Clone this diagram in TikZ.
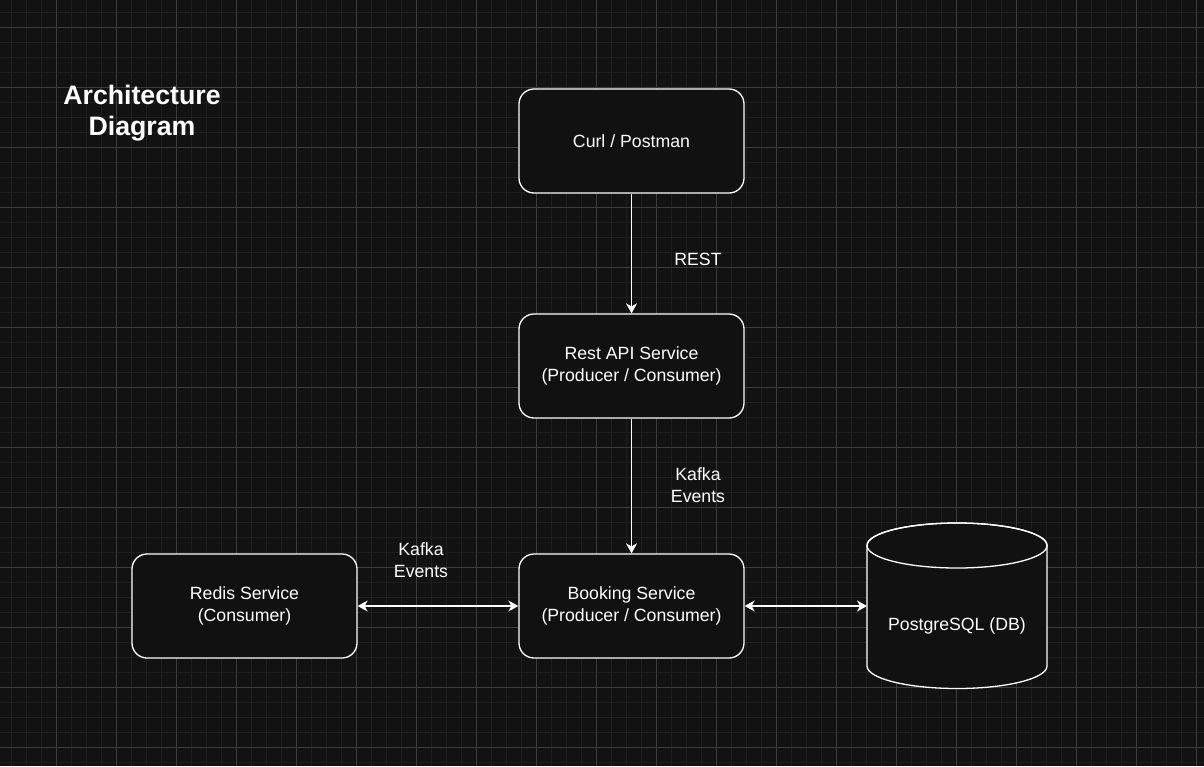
\documentclass[tikz,border=0pt]{standalone}
\usepackage{fontspec}
\setmainfont{Liberation Sans}
\usetikzlibrary{arrows.meta}
\definecolor{bgc}{RGB}{18,18,18}
\definecolor{minorc}{RGB}{30,30,30}
\definecolor{majorc}{RGB}{60,60,60}
\definecolor{boxc}{RGB}{17,17,17}
\tikzset{
  box/.style={draw=white, line width=1.3pt, fill=boxc, rounded corners=15pt,
    minimum width=225pt, minimum height=104pt, text=white, align=center,
    font=\fontsize{17.7}{21.5}\selectfont, inner sep=0pt},
  lbl/.style={text=white, align=center, font=\fontsize{17.7}{21.5}\selectfont, inner sep=0pt},
  tip/.tip={Stealth[length=10pt,width=11pt,inset=3pt]},
  conn/.style={draw=white, line width=1.3pt, -tip},
  conn2/.style={draw=white, line width=1.3pt, tip-tip},
  minorline/.style={draw=minorc, line width=1pt},
  majorline/.style={draw=majorc, line width=1pt},
}
\begin{document}
\begin{tikzpicture}[x=1pt,y=-1pt]
\useasboundingbox (0,0) rectangle (1204,766);
\fill[bgc] (0,0) rectangle (1204,766);
\begin{scope}
\clip (0,0) rectangle (1204,766);
\foreach \i in {0,...,79} {\draw[minorline] ({11+15*\i},0) -- ({11+15*\i},766);}
\foreach \j in {0,...,50} {\draw[minorline] (0,{12+15*\j}) -- (1204,{12+15*\j});}
\foreach \i in {0,...,19} {\draw[majorline] ({56+60*\i},0) -- ({56+60*\i},766);}
\foreach \j in {0,...,12} {\draw[majorline] (0,{27+60*\j}) -- (1204,{27+60*\j});}
\end{scope}

\node[lbl, font=\bfseries\fontsize{26.7}{31}\selectfont] (title) at (142,113) {Architecture\\Diagram};

\node[box] (curl) at (631.5,141) {Curl / Postman};
\node[box] (rest) at (631.5,366) {Rest API Service\\(Producer / Consumer)};
\node[box] (booking) at (631.5,606) {Booking Service\\(Producer / Consumer)};
\node[box] (redis) at (244.5,606) {Redis Service\\(Consumer)};

% PostgreSQL cylinder
\draw[white, line width=1.3pt, fill=boxc]
  (867,545.5) -- (867,666) arc[start angle=180, end angle=360, x radius=90pt, y radius=22.5pt]
  -- (1047,545.5) arc[start angle=0, end angle=180, x radius=90pt, y radius=22.5pt] -- cycle;
\draw[white, line width=1.3pt] (957,545.5) ellipse[x radius=90pt, y radius=22.5pt];
\node[minimum width=180pt, minimum height=166pt, inner sep=0pt, outer sep=0pt] (pg) at (957,606) {};
\node[lbl] (pglabel) at (957,626) {PostgreSQL (DB)};

\draw[conn] (curl) -- (rest);
\draw[conn] (rest) -- (booking);
\draw[conn2] (redis) -- (booking);
\draw[conn2] (booking) -- (pg.west);

\node[lbl] (lrest) at (698,259.5) {REST};
\node[lbl] (lkafka1) at (698,485) {Kafka\\Events};
\node[lbl] (lkafka2) at (421,560) {Kafka\\Events};
\end{tikzpicture}
\end{document}
